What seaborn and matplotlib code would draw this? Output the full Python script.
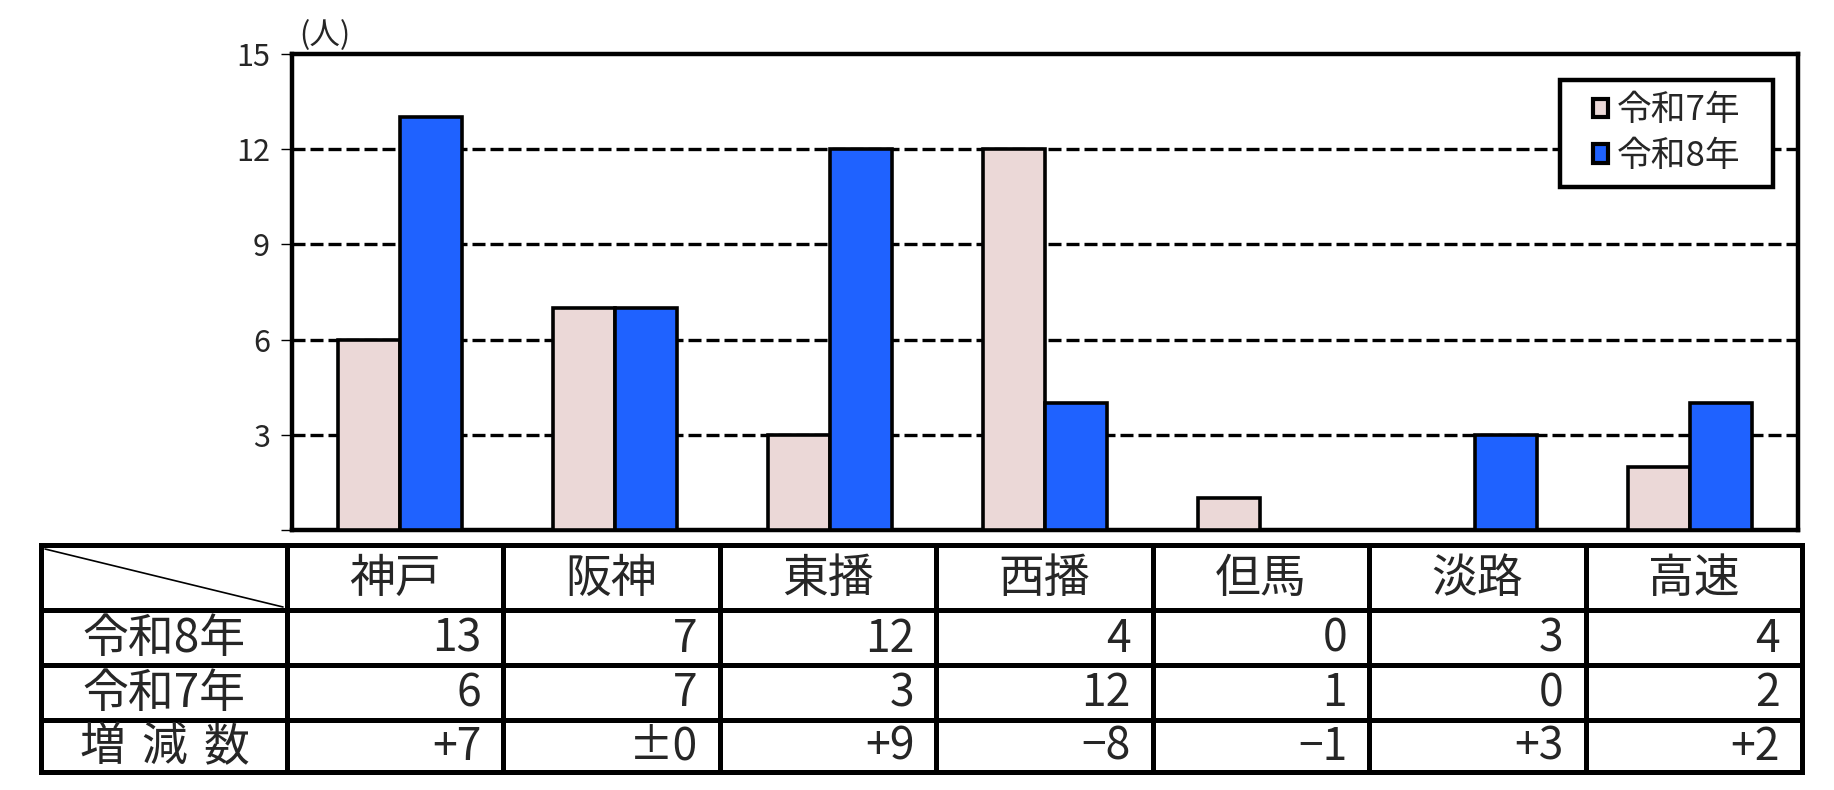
import matplotlib
matplotlib.use("Agg")
import matplotlib.pyplot as plt
from matplotlib.patches import Patch, Rectangle
import seaborn as sns
import pandas as pd

# ---- data ----
regions = ["神戸", "阪神", "東播", "西播", "但馬", "淡路", "高速"]
r8_values = [13, 7, 12, 4, 0, 3, 4]
r7_values = [6, 7, 3, 12, 1, 0, 2]
diff_labels = ["+7", "±0", "+9", "−8", "−1", "+3", "+2"]
series_names = ["令和7年", "令和8年"]
row_labels = ["令和8年", "令和7年", "増 減 数"]
y_ticks = [0, 3, 6, 9, 12, 15]
y_tick_labels = ["", "3", "6", "9", "12", "15"]
unit_label = "(人)"

colors = {"令和7年": "#EBD8D7", "令和8年": "#1F62FF"}

df = pd.DataFrame({
    "region": regions * 2,
    "year": [series_names[0]] * len(regions) + [series_names[1]] * len(regions),
    "value": r7_values + r8_values,
})

sns.set_theme(style="white")
CJK = ["Noto Sans CJK JP", "DejaVu Sans"]
NUM = ["Noto Sans CJK JP", "DejaVu Sans"]
plt.rcParams["font.family"] = CJK

W, H = 1834, 790
fig = plt.figure(figsize=(W / 100, H / 100), dpi=100)
fig.patch.set_facecolor("white")

# main chart axes (pixel layout)
ax_l, ax_r, ax_t, ax_b = 292, 1798, 54, 530
ax = fig.add_axes([ax_l / W, 1 - ax_b / H, (ax_r - ax_l) / W, (ax_b - ax_t) / H])

sns.barplot(data=df, x="region", y="value", hue="year", hue_order=series_names,
            order=regions, palette=colors, width=0.577, gap=0,
            edgecolor="black", linewidth=2.6, saturation=1, legend=False,
            ax=ax, zorder=3)

ax.set_ylim(0, 15)
ax.set_xlim(-0.5, len(regions) - 0.5)
ax.set_yticks(y_ticks)
ax.set_yticklabels(y_tick_labels, family=NUM, fontsize=22)
ax.set_xticks([])
ax.set_xlabel("")
ax.set_ylabel("")
ax.tick_params(axis="y", direction="out", length=8, width=1.0, color="black",
               left=True, pad=8)
for s in ax.spines.values():
    s.set_visible(True)
    s.set_color("black")
    s.set_linewidth(3.2)
ax.set_axisbelow(True)
for v in y_ticks[1:-1]:
    ax.axhline(v, color="black", linewidth=2.4, linestyle=(0, (3.9, 1.5)), zorder=1)

ax.text(0.005, 1.006, unit_label, transform=ax.transAxes, ha="left", va="bottom",
        fontsize=22, family=CJK)

# legend: separate frame box + centred entries
box_x0, box_x1, box_y0, box_y1 = 0.842, 0.9834, 0.7206, 0.945
ax.add_patch(Rectangle((box_x0, box_y0), box_x1 - box_x0, box_y1 - box_y0,
                       transform=ax.transAxes, facecolor="white", edgecolor="black",
                       linewidth=3.2, zorder=6, clip_on=False))
handles = [Patch(facecolor=colors[n], edgecolor="black", linewidth=3) for n in series_names]
leg = ax.legend(handles, series_names, loc="center",
                bbox_to_anchor=((box_x0 + box_x1) / 2, (box_y0 + box_y1) / 2),
                frameon=False, fontsize=25, handlelength=0.45, handleheight=0.45,
                handletextpad=0.25, borderpad=0.2, labelspacing=0.3, borderaxespad=0)
leg.set_zorder(7)
for t in leg.get_texts():
    t.set_family(CJK)

# ---- table (overlay axes in pixel coordinates) ----
tab = fig.add_axes([0, 0, 1, 1])
tab.set_xlim(0, W)
tab.set_ylim(H, 0)
tab.axis("off")
tab.patch.set_alpha(0)

t_left, t_right = 41, 1802
label_right = 287
col_w = (t_right - label_right) / len(regions)
col_edges = [t_left] + [label_right + i * col_w for i in range(len(regions) + 1)]
row_edges = [545, 610, 665, 720, 772]

lw_tab = 3.6
for y in row_edges:
    tab.plot([t_left, t_right], [y, y], color="black", linewidth=lw_tab,
             solid_capstyle="projecting")
for x in col_edges:
    tab.plot([x, x], [row_edges[0], row_edges[-1]], color="black", linewidth=lw_tab,
             solid_capstyle="projecting")
# diagonal in corner cell
tab.plot([t_left + 4, label_right - 4], [row_edges[0] + 4, row_edges[1] - 3],
         color="black", linewidth=1.2)

hdr_y = (row_edges[0] + row_edges[1]) / 2
for i, name in enumerate(regions):
    cx = label_right + (i + 0.5) * col_w
    tab.text(cx, hdr_y + 1, name, ha="center", va="center", fontsize=33, family=CJK)

rows = [[str(v) for v in r8_values], [str(v) for v in r7_values], diff_labels]
label_cx = (t_left + label_right) / 2
for r, (lab, vals) in enumerate(zip(row_labels, rows)):
    cy = (row_edges[r + 1] + row_edges[r + 2]) / 2
    parts = lab.split(" ")
    if len(parts) > 1:
        step = 62
        for k, ch in enumerate(parts):
            tab.text(label_cx + (k - (len(parts) - 1) / 2) * step, cy + 1, ch,
                     ha="center", va="center", fontsize=33, family=CJK)
    else:
        tab.text(label_cx, cy + 1, lab, ha="center", va="center",
                 fontsize=33, family=CJK)
    for i, v in enumerate(vals):
        rx = label_right + (i + 1) * col_w - 22
        tab.text(rx, cy + 1, v, ha="right", va="center", fontsize=32, family=NUM)

fig.savefig("out.png", dpi=100, facecolor="white")
